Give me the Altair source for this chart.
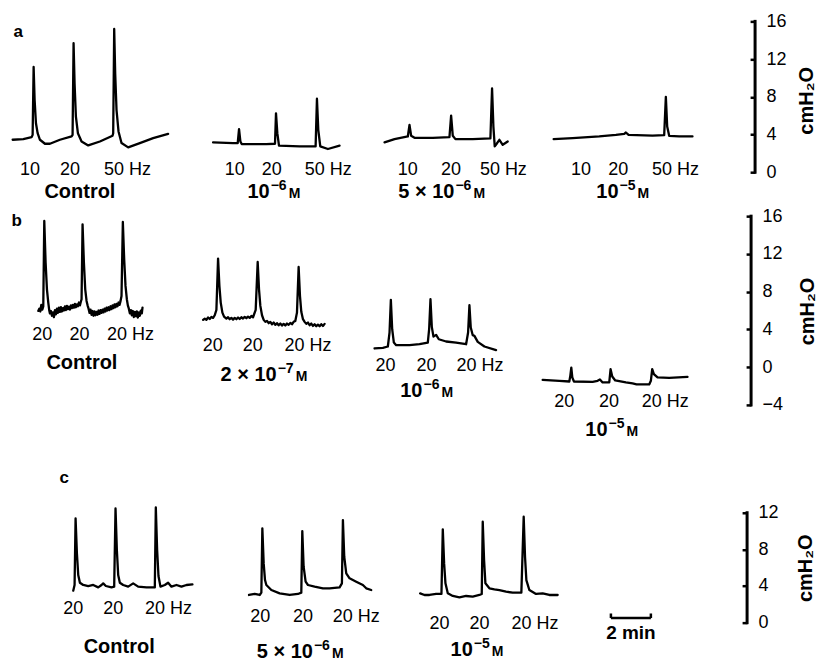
import altair as alt
import pandas as pd

FONT = "Liberation Sans"

# Recording time along each row is in seconds (same time base for every trace),
# pressures in cmH2O.

# ---------------- panel a: 10, 20 and 50 Hz trains ----------------
a_ctrl_t = [38, 70, 95, 98, 101, 104, 108, 113, 120, 135, 150, 180, 215, 218, 221, 224, 228, 234,
            245, 265, 300, 338, 340, 343, 346, 350, 356, 365, 385, 420, 460, 505]
a_ctrl_p = [3.44, 3.51, 3.72, 3.96, 11.16, 7.65, 5.19, 4.14, 3.44, 3.02, 3.02, 3.44, 3.79, 3.96,
            13.68, 9.40, 5.89, 4.14, 3.26, 2.84, 3.26, 3.86, 4.14, 15.19, 10.46, 6.60, 4.32, 3.09,
            2.63, 3.09, 3.61, 4.07]

a_m6_t = [640, 700, 714, 718, 722, 726, 800, 826, 829, 833, 838, 900, 948, 952, 956, 962, 985, 1020]
a_m6_p = [3.16, 3.09, 3.09, 4.56, 3.26, 2.98, 2.98, 3.02, 6.25, 4.14, 2.81, 2.74, 2.74, 7.79, 4.49,
          2.74, 2.46, 2.81]

a_5m6_t = [1155, 1185, 1225, 1230, 1235, 1245, 1300, 1350, 1355, 1360, 1368, 1420, 1473, 1478, 1482,
           1486, 1492, 1500, 1510, 1525]
a_5m6_p = [3.16, 3.51, 3.79, 5.02, 3.86, 3.65, 3.65, 3.72, 6.00, 3.86, 3.51, 3.51, 3.58, 8.88, 4.84,
           2.74, 3.02, 3.44, 2.91, 3.26]

a_m5_t = [1663, 1720, 1800, 1850, 1875, 1880, 1888, 1960, 1995, 2000, 2004, 2010, 2040, 2080]
a_m5_p = [3.51, 3.61, 3.79, 3.96, 4.07, 4.21, 3.96, 3.89, 3.93, 8.00, 4.84, 3.86, 3.79, 3.79]

a_hz_t = [90, 210, 383, 705, 816, 986, 1225, 1355, 1512, 1745, 1857, 2029]
a_hz_text = ["10", "20", "50 Hz"] * 4
a_hz_p = 0.28
a_ctrl_label = (240, -2.07)
# concentration labels: mantissa, exponent, end of mantissa (s), pressure level
a_conc_base = ["10", "5 × 10", "10"]
a_conc_exp = ["−6", "−6", "−5"]
a_conc_t = [810, 1365, 1858]
a_conc_p = [-2.07, -2.07, -2.07]

# ---------------- panel b: repeated 20 Hz trains ----------------
b_ctrl_t = [115, 118, 121, 124, 127, 130, 133, 137, 141, 145, 148,
            150, 153, 156, 159, 162, 165, 168, 171, 174, 177, 180, 183, 186, 189, 192, 195, 198,
            201, 204, 207, 210, 213, 216, 219, 222, 225, 228, 231, 234, 237, 240, 243, 245,
            248, 252, 256,
            260, 263, 266, 269, 272, 275, 278, 281, 284, 287, 290, 293, 296, 299, 302, 305, 308,
            311, 314, 317, 320, 323, 326, 329, 332, 335, 338, 341, 344, 347, 350, 353, 356, 359,
            362, 365, 369, 373, 377,
            381, 384, 387, 390, 393, 396, 399, 402, 405, 408, 411, 414, 417, 420, 423, 426, 428]
b_ctrl_p = [5.96, 6.20, 5.90, 6.60, 6.10, 6.45, 15.49, 11.08, 8.25, 6.84, 6.00,
            5.70, 5.95, 5.45, 5.80, 5.30, 6.05, 5.60, 6.20, 5.75, 6.30, 5.85, 6.35, 5.90, 6.25,
            6.00, 6.45, 6.05, 6.50, 6.15, 6.40, 6.10, 6.55, 6.25, 6.60, 6.30, 6.70, 6.35, 6.65,
            6.45, 6.85, 6.55, 6.95, 7.20,
            15.13, 11.08, 8.25,
            7.02, 6.55, 6.20, 5.75, 6.10, 5.55, 5.95, 5.45, 5.90, 5.50, 5.85, 5.55, 6.00, 5.65,
            6.05, 5.75, 6.10, 5.80, 6.20, 5.90, 6.30, 6.00, 6.35, 6.05, 6.45, 6.15, 6.55, 6.25,
            6.65, 6.35, 6.70, 6.45, 6.85, 6.60, 7.00, 7.55, 15.38, 11.43, 8.61,
            7.20, 6.55, 6.20, 5.70, 6.05, 5.50, 5.95, 5.30, 5.85, 5.40, 5.90, 5.25, 5.80, 5.45,
            6.00, 5.70, 6.30]

b_m7_t = [610, 615, 620, 625, 630, 635, 640, 645, 650, 655, 659, 663, 668, 673, 680, 685, 690, 695,
          700, 705, 710, 715, 720, 725, 730, 735, 740, 745, 750, 755, 760, 768, 774, 778, 782, 787,
          792, 797, 802, 807, 812, 817, 822, 827, 832, 837, 842, 847, 852, 857, 862, 867, 872, 877,
          882, 887, 892, 897, 901, 905, 910, 915, 920, 925, 930, 935, 940, 945, 950, 955, 960, 965,
          970, 975]
b_m7_p = [5.01, 5.15, 5.01, 5.26, 5.11, 5.33, 5.22, 5.50, 6.07, 11.50, 8.61, 6.84, 5.78, 5.36,
          5.15, 5.29, 5.08, 5.22, 5.04, 5.22, 5.08, 5.26, 5.11, 5.29, 5.15, 5.33, 5.19, 5.36, 5.22,
          5.43, 5.29, 6.07, 11.15, 8.25, 6.49, 5.50, 5.01, 4.80, 4.90, 4.66, 4.80, 4.55, 4.73, 4.48,
          4.66, 4.44, 4.62, 4.41, 4.59, 4.41, 4.62, 4.48, 4.69, 4.55, 4.80, 4.90, 5.78, 10.62, 7.55,
          5.86, 5.08, 4.80, 4.59, 4.73, 4.44, 4.62, 4.37, 4.55, 4.34, 4.51, 4.34, 4.55, 4.37, 4.59]

b_m6_t = [1125, 1150, 1165, 1170, 1174, 1178, 1183, 1190, 1230, 1260, 1285, 1289, 1293, 1297, 1302,
          1310, 1318, 1340, 1370, 1400, 1406, 1410, 1414, 1420, 1425, 1435, 1455, 1490]
b_m6_p = [1.98, 2.05, 2.19, 3.67, 7.13, 4.02, 2.61, 2.33, 2.33, 2.43, 2.61, 4.02, 7.20, 4.27, 3.24,
          3.42, 2.96, 2.72, 2.61, 2.43, 3.67, 6.56, 4.20, 3.39, 3.32, 2.68, 2.19, 1.80]

b_m5_t = [1630, 1680, 1710, 1713, 1716, 1719, 1724, 1780, 1795, 1802, 1810, 1830, 1834, 1839, 1848,
          1880, 1900, 1912, 1950, 1955, 1959, 1964, 1975, 2010, 2065]
b_m5_p = [-1.34, -1.45, -1.52, -0.92, -0.04, -1.09, -1.52, -1.55, -1.45, -1.31, -1.62, -1.62, -0.21,
          -0.99, -1.41, -1.62, -1.73, -1.83, -1.83, -1.45, -0.21, -0.74, -1.09, -1.13, -1.02]

b_hz_t = [127, 239, 392, 639, 759, 925, 1158, 1281, 1442, 1695, 1829, 1998]
b_hz_text = ["20", "20", "20 Hz"] * 4
b_hz_p = [3.39, 3.39, 3.39, 2.19, 2.19, 2.19, 0.10, 0.10, 0.10, -3.74, -3.74, -3.74]
b_ctrl_label = (246, 0.42)
b_conc_base = ["2 × 10", "10", "10"]
b_conc_exp = ["−7", "−6", "−5"]
b_conc_t = [831, 1269, 1825]
b_conc_p = [-0.85, -2.55, -6.63]

# ---------------- panel c: repeated 20 Hz trains ----------------
c_ctrl_t = [220, 224, 227, 231, 235, 240, 250, 265, 280, 295, 305, 310, 318, 335, 343, 347, 351, 355,
            360, 370, 385, 400, 415, 440, 465, 468, 472, 476, 482, 495, 505, 515, 530, 545, 560, 578]
c_ctrl_p = [3.49, 4.11, 11.38, 7.56, 5.20, 4.36, 4.11, 4.00, 4.11, 3.85, 4.11, 4.29, 4.00, 3.85,
            3.93, 12.47, 7.93, 5.20, 4.36, 4.11, 3.93, 4.29, 3.93, 3.85, 3.85, 12.58, 7.93, 5.09,
            3.93, 4.11, 4.36, 3.93, 4.11, 3.93, 4.11, 4.18]

c_5m6_t = [748, 765, 780, 785, 788, 792, 796, 800, 815, 840, 870, 895, 905, 908, 912, 918, 925, 945,
           970, 990, 1020, 1027, 1030, 1034, 1040, 1050, 1070, 1090, 1100, 1115]
c_5m6_p = [3.02, 3.13, 3.02, 3.27, 10.29, 6.47, 4.65, 4.11, 3.56, 3.20, 3.02, 3.13, 3.27, 10.00,
           6.11, 4.47, 4.11, 3.93, 3.75, 3.75, 3.85, 4.29, 11.20, 7.20, 5.38, 4.84, 4.47, 4.11,
           3.75, 3.56]

c_m5_t = [1262, 1275, 1290, 1310, 1326, 1330, 1334, 1338, 1345, 1360, 1380, 1400, 1420, 1440, 1447,
          1450, 1454, 1458, 1470, 1485, 1500, 1520, 1540, 1566, 1573, 1577, 1581, 1590, 1610, 1630,
          1650, 1675]
c_m5_p = [3.20, 3.02, 3.02, 3.13, 3.13, 10.18, 6.47, 4.29, 3.20, 2.91, 2.76, 2.91, 2.84, 3.02, 3.13,
          11.02, 6.84, 4.29, 3.75, 3.64, 3.56, 3.38, 3.27, 3.27, 11.56, 7.20, 4.65, 3.56, 3.13, 3.20,
          3.02, 3.02]

c_hz_t = [220, 340, 506, 782, 910, 1070, 1320, 1440, 1607]
c_hz_text = ["20", "20", "20 Hz"] * 3
c_hz_p = [1.45, 1.45, 1.45, 0.65, 0.65, 0.65, -0.15, -0.15, -0.15]
c_ctrl_label = (358, -2.69)
c_conc_base = ["5 × 10", "10"]
c_conc_exp = ["−6", "−5"]
c_conc_t = [940, 1420]
c_conc_p = [-3.16, -2.98]

# time calibration bar (2 min) in panel c
bar_t = [1835, 1955]
bar_p = 0.5
bar_tick_top = 1.0
bar_text = "2 min"
bar_text_p = -1.12

# panel letters
letters = [("a", 55, 14.9), ("b", 50, 15.5), ("c", 193, 15.8)]


def traces_frame(traces):
    rows = []
    for name, ts, ps in traces:
        for t, p in zip(ts, ps):
            rows.append({"trace": name, "t": t, "p": p})
    return pd.DataFrame(rows)


def labels_frame(ts, texts, ps):
    if not isinstance(ps, list):
        ps = [ps] * len(ts)
    return pd.DataFrame({"t": ts, "p": ps, "label": texts})


def bold_text(df, x_enc, size, **kw):
    return alt.Chart(df).mark_text(
        font=FONT, fontSize=size, fontWeight="bold", color="black", baseline="middle", **kw
    ).encode(x=x_enc, y=alt.Y("p:Q", axis=None), text="label:N")


def panel(traces, hz, ctrl_label, conc, letter, t_max, width, height, y_domain, ticks,
          title_x, title_y, extra=None):
    xs = alt.Scale(domain=[0, t_max], nice=False, zero=False)
    ys = alt.Scale(domain=y_domain, nice=False, zero=False)
    x_enc = alt.X("t:Q", scale=xs, axis=None)

    lines = alt.Chart(traces_frame(traces)).mark_line(
        color="black", strokeWidth=2.3, strokeJoin="round", strokeCap="round", interpolate="linear"
    ).encode(
        x=x_enc,
        y=alt.Y("p:Q", scale=ys, axis=alt.Axis(
            orient="right", values=ticks, domain=False, ticks=False, tickSize=0, grid=False,
            labelPadding=11, labelFont=FONT, labelFontSize=18, labelColor="black",
            labelFlush=False, labelOverlap=False,
            title="cmH₂O", titleAngle=270, titleX=title_x, titleY=title_y,
            titleAlign="center", titleBaseline="middle", titleFont=FONT, titleFontSize=20,
            titleFontWeight="bold", titleColor="black")),
        detail="trace:N",
    )

    # stimulus frequencies under each trace; this layer also carries the inward ticks
    hz_text = alt.Chart(hz).mark_text(
        font=FONT, fontSize=18, color="black", align="center", baseline="middle"
    ).encode(
        x=x_enc,
        y=alt.Y("p:Q", axis=alt.Axis(
            orient="left", offset=-width, values=ticks, domain=False, labels=False, grid=False,
            ticks=True, tickSize=5, tickWidth=2.5, tickColor="black", title=None)),
        text="label:N",
    )

    ctrl_df = pd.DataFrame([{"label": "Control", "t": ctrl_label[0], "p": ctrl_label[1]}])
    ctrl_text = bold_text(ctrl_df, x_enc, 20, align="center")

    base_df = pd.DataFrame({"t": conc[2], "p": conc[3], "label": conc[0]})
    exp_df = pd.DataFrame({"t": conc[2], "p": conc[3], "label": conc[1]})
    unit_df = pd.DataFrame({"t": conc[2], "p": conc[3], "label": ["M"] * len(conc[0])})
    conc_base = bold_text(base_df, x_enc, 20, align="right")
    conc_exp = bold_text(exp_df, x_enc, 14, align="left", dx=1, dy=-6)
    conc_unit = bold_text(unit_df, x_enc, 14, align="left", dx=19, dy=2)

    letter_df = pd.DataFrame([{"label": letter[0], "t": letter[1], "p": letter[2]}])
    letter_text = bold_text(letter_df, x_enc, 17, align="center")

    axis_line = alt.Chart(pd.DataFrame({"t": [t_max], "lo": [ticks[0]], "hi": [ticks[-1]]})).mark_rule(
        color="black", strokeWidth=3, strokeCap="square"
    ).encode(x=x_enc, y=alt.Y("lo:Q", axis=None), y2="hi:Q")

    layers = [lines, hz_text, ctrl_text, conc_base, conc_exp, conc_unit, letter_text, axis_line]
    if extra is not None:
        layers += extra(x_enc)
    return alt.layer(*layers).resolve_axis(y="independent").properties(width=width, height=height)


def time_bar(x_enc):
    bar_df = pd.DataFrame({"t": [bar_t[0]], "t2": [bar_t[1]], "p": [bar_p]})
    ends_df = pd.DataFrame({"t": bar_t, "p": [bar_p] * 2, "p2": [bar_tick_top] * 2})
    txt_df = pd.DataFrame({"t": [sum(bar_t) / 2], "p": [bar_text_p], "label": [bar_text]})
    bar = alt.Chart(bar_df).mark_rule(color="black", strokeWidth=2.5).encode(
        x=x_enc, x2="t2:Q", y=alt.Y("p:Q", axis=None))
    ends = alt.Chart(ends_df).mark_rule(color="black", strokeWidth=2.5).encode(
        x=x_enc, y=alt.Y("p:Q", axis=None), y2="p2:Q")
    txt = bold_text(txt_df, x_enc, 19, align="center")
    return [bar, ends, txt]


row_a = panel(
    [("ctrl", a_ctrl_t, a_ctrl_p), ("m6", a_m6_t, a_m6_p), ("5m6", a_5m6_t, a_5m6_p),
     ("m5", a_m5_t, a_m5_p)],
    labels_frame(a_hz_t, a_hz_text, a_hz_p), a_ctrl_label,
    (a_conc_base, a_conc_exp, a_conc_t, a_conc_p),
    letters[0], t_max=2268, width=756, height=151, y_domain=[0, 16], ticks=[0, 4, 8, 12, 16],
    title_x=51, title_y=79,
)

row_b = panel(
    [("ctrl", b_ctrl_t, b_ctrl_p), ("m7", b_m7_t, b_m7_p), ("m6", b_m6_t, b_m6_p),
     ("m5", b_m5_t, b_m5_p)],
    labels_frame(b_hz_t, b_hz_text, b_hz_p), b_ctrl_label,
    (b_conc_base, b_conc_exp, b_conc_t, b_conc_p),
    letters[1], t_max=2256, width=752, height=233, y_domain=[-4, 20.66], ticks=[-4, 0, 4, 8, 12, 16],
    title_x=56, title_y=139,
)

row_c = panel(
    [("ctrl", c_ctrl_t, c_ctrl_p), ("5m6", c_5m6_t, c_5m6_p), ("m5", c_m5_t, c_m5_p)],
    labels_frame(c_hz_t, c_hz_text, c_hz_p), c_ctrl_label,
    (c_conc_base, c_conc_exp, c_conc_t, c_conc_p),
    letters[2], t_max=2244, width=748, height=218, y_domain=[0, 23.77], ticks=[0, 4, 8, 12],
    title_x=58, title_y=163, extra=time_bar,
)

chart = alt.vconcat(row_a, row_b, row_c, spacing=0, bounds="flush").configure_view(
    stroke=None
).properties(
    padding={"left": 0, "top": 12, "right": 0, "bottom": 0},
    background="white",
)

chart.save("out.html", embed_options={"renderer": "svg", "actions": False})
